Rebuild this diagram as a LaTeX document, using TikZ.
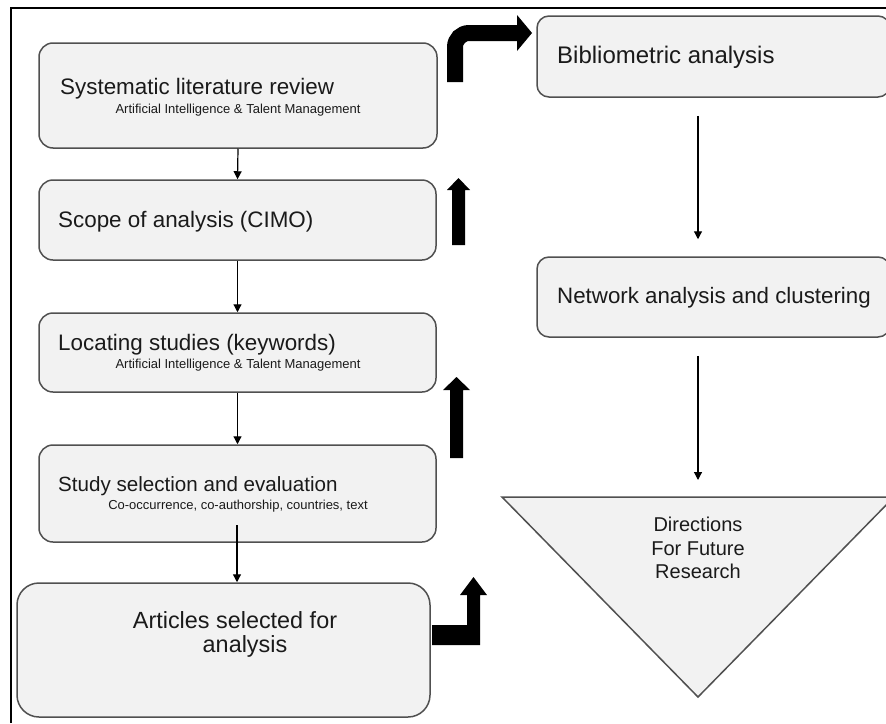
\documentclass[tikz,border=0pt]{standalone}
\usepackage{fontspec}
\setmainfont{Liberation Sans}
\usetikzlibrary{arrows.meta,calc}
\definecolor{boxfill}{HTML}{F2F2F2}
\definecolor{boxline}{HTML}{505050}
\definecolor{txt}{HTML}{1A1A1A}
\begin{document}
\begin{tikzpicture}[x=1pt,y=-1pt,
  box/.style={draw=boxline,fill=boxfill,line width=1.5pt,rounded corners=14pt,inner sep=0pt},
  conn/.style={draw=black,line width=1.2pt,-{Triangle[length=8pt,width=8pt]}},
  big/.style={font=\fontsize{22.4}{26}\selectfont,anchor=west,inner sep=0pt,text=txt},
  bigr/.style={font=\fontsize{24}{28}\selectfont,anchor=west,inner sep=0pt,text=txt},
  small/.style={font=\fontsize{13}{15}\selectfont,inner sep=0pt,text=txt},
  blk/.style={fill=black}]
\useasboundingbox (0,0) rectangle (886,723);
\clip (0,0) rectangle (886,723);
\fill[white] (0,0) rectangle (886,723);
% frame
\draw[line width=2pt] (11,723) -- (11,8) -- (886,8);
% left column boxes
\node[box,minimum width=398pt,minimum height=105pt] (b1) at (238,95.5) {};
\node[box,minimum width=397pt,minimum height=80pt] (b2) at (237.5,220) {};
\node[box,minimum width=397pt,minimum height=79pt] (b3) at (237.5,352.5) {};
\node[box,minimum width=397pt,minimum height=97pt] (b4) at (237.5,493.5) {};
\node[box,rounded corners=22pt,minimum width=413pt,minimum height=134pt] (b5) at (223.5,650) {};
% right column boxes
\node[box,rounded corners=12pt,minimum width=353pt,minimum height=81pt] (bib) at (713.5,56.5) {};
\node[box,rounded corners=12pt,minimum width=353pt,minimum height=80pt] (net) at (713.5,297) {};
% triangle
\coordinate (tl) at (502,497);
\coordinate (tr) at (894,497);
\coordinate (tb) at (698,697);
\coordinate (ttop) at (698,497);
\draw[draw=boxline,fill=boxfill,line width=1.5pt,line join=miter] (tl) -- (tr) -- (tb) -- cycle;
% texts
\node[big] (t1) at (60,89) {Systematic literature review};
\node[small] (s1) at (238,110) {Artificial Intelligence \& Talent Management};
\node[big] (t2) at (58,222) {Scope of analysis (CIMO)};
\node[big] (t3) at (58,345) {Locating studies (keywords)};
\node[small] (s3) at (238,365) {Artificial Intelligence \& Talent Management};
\node[big,font=\fontsize{20.6}{24}\selectfont] (t4) at (58,486) {Study selection and evaluation};
\node[small] (s4) at (238,506) {Co-occurrence, co-authorship, countries, text};
\node[font=\fontsize{23.4}{26}\selectfont,inner sep=0pt,text=txt] (t5a) at (235,620) {Articles selected for};
\node[font=\fontsize{23.4}{26}\selectfont,inner sep=0pt,text=txt] (t5b) at (245,646) {analysis};
\node[bigr] (t6) at (557,57) {Bibliometric analysis};
\node[bigr,font=\fontsize{22.3}{26}\selectfont] (t7) at (557,298) {Network analysis and clustering};
\node[font=\fontsize{20}{23.5}\selectfont,align=center,inner sep=0pt,text=txt] (t8) at (698,548) {Directions\\For Future\\Research};
% connectors
\draw[conn] (b1.south) -- (b2.north);
\draw[conn] (b2.south) -- (b3.north);
\draw[conn] (b3.south) -- (b4.north);
\coordinate (c4) at (237,525);
\draw[conn] (c4) -- (c4 |- b5.north);
\draw[conn] ([xshift=-15.5pt,yshift=-18pt]bib.south) -- ([xshift=-15.5pt,yshift=17pt]net.north);
\draw[conn] ([xshift=-15.5pt,yshift=-18pt]net.south) -- ([yshift=17pt]ttop);
% block arrows
\draw[line width=16pt,rounded corners=14pt] (455,82) |- (518,33);
\fill[blk] (517,15) -- (532,33) -- (517,51) -- cycle;
\fill[blk] (452,245) -- (452,190) -- (447,190) -- (458.5,178) -- (470,190) -- (465,190) -- (465,245) -- cycle;
\fill[blk] (450,458) -- (450,390) -- (443,390) -- (456.5,377) -- (470,390) -- (463,390) -- (463,458) -- cycle;
\fill[blk] (432,625) -- (467,625) -- (467,595) -- (460,595) -- (473.5,577) -- (487,595) -- (480,595) -- (480,645) -- (432,645) -- cycle;
\end{tikzpicture}
\end{document}
